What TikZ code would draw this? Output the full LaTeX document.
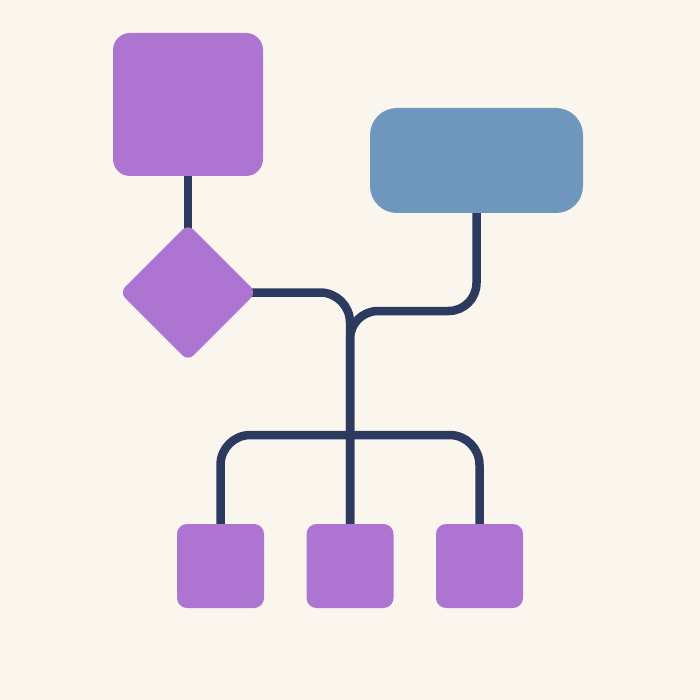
\documentclass[tikz,border=0pt]{standalone}
\usepackage{tikz}
\usetikzlibrary{shapes.geometric, backgrounds}
\definecolor{paper}{RGB}{250,246,238}
\definecolor{lila}{RGB}{173,116,210}
\definecolor{stahl}{RGB}{111,151,190}
\definecolor{navy}{RGB}{43,58,94}
\tikzset{
    box/.style={fill=lila, rounded corners=17pt, inner sep=0pt},
    klein/.style={fill=lila, rounded corners=10pt, inner sep=0pt, minimum width=87pt, minimum height=84pt},
    verbind/.style={navy, line width=8.5pt}
}

\begin{document}
\begin{tikzpicture}[x=1pt, y=-1pt]
            \useasboundingbox (0,0) rectangle (700,700);
            \node[box, minimum width=150pt, minimum height=143pt] (oben) at (188,104.5) {};
            \node[fill=stahl, rounded corners=27pt, inner sep=0pt, minimum width=213pt, minimum height=105pt] (blau) at (476.5,160.5) {};
            \node[diamond, fill=lila, rounded corners=8pt, inner sep=0pt, minimum width=137pt, minimum height=137pt] (raute) at (188,292.5) {};
            \node[klein] (links) at (220.5,566) {};
            \node[klein] (mitte) at (350,566) {};
            \node[klein] (rechts) at (479.5,566) {};
            \coordinate (knoten) at (350,311);
            \coordinate (balken) at (350,435);
            \begin{pgfonlayer}{background}
                \fill[paper] (0,0) rectangle (700,700);
                \draw[verbind] (oben.center) -- (raute.center);
                \draw[verbind, rounded corners=30pt] (raute.center) -| (mitte.center);
                \draw[verbind, rounded corners=28pt] (blau.center) |- (knoten) -- (mitte.center);
                \draw[verbind, rounded corners=30pt] (links.center) |- (balken) -| (rechts.center);
            \end{pgfonlayer}
        \end{tikzpicture}
\end{document}
